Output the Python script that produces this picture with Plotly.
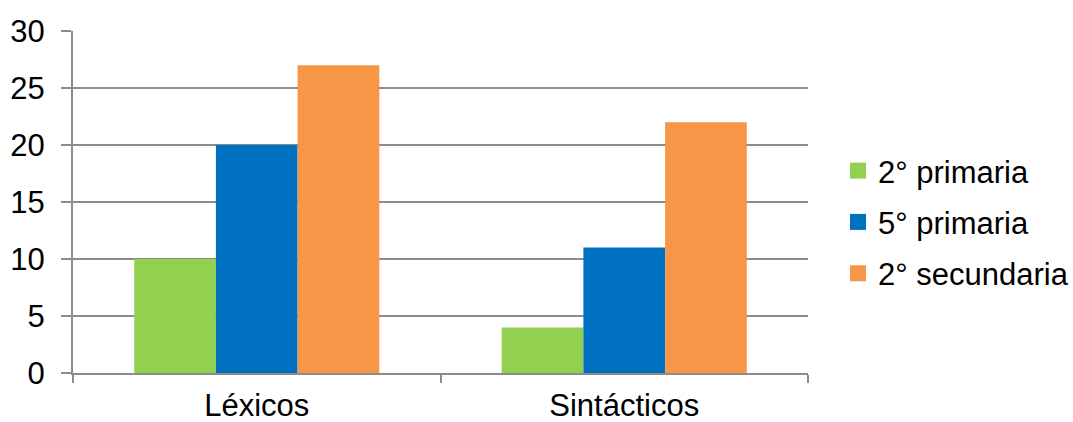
import plotly.graph_objects as go

categories = ["Léxicos", "Sintácticos"]
series_names = ["2° primaria", "5° primaria", "2° secundaria"]
values_2p = [10, 4]
values_5p = [20, 11]
values_2s = [27, 22]
colors = ["#92d050", "#0070c0", "#f79646"]

FONT = "Liberation Sans, Arial, sans-serif"
GRID = "#8c8c8c"
FS = 31

fig = go.Figure()
for name, vals, col in zip(series_names, [values_2p, values_5p, values_2s], colors):
    fig.add_trace(go.Bar(x=categories, y=vals, name=name, marker=dict(color=col, line=dict(width=0)),
                         showlegend=False))
    # square swatch for the legend
    fig.add_trace(go.Scatter(x=[None], y=[None], mode="markers", name=name, legendgroup=name,
                             marker=dict(symbol="square", size=16, color=col)))

fig.update_layout(
    width=1073, height=422,
    margin=dict(l=73, r=265, t=31, b=49, autoexpand=False),
    paper_bgcolor="white", plot_bgcolor="white",
    barmode="group", bargap=0.333, bargroupgap=0,
    font=dict(family=FONT, size=FS, color="#000000"),
    legend=dict(xref="container", yref="container", x=0.781, y=0.474,
                xanchor="left", yanchor="middle",
                font=dict(size=FS), tracegroupgap=8, itemwidth=30,
                bgcolor="rgba(0,0,0,0)"),
    xaxis=dict(type="category", showgrid=False, showline=True, linecolor=GRID, linewidth=2,
               ticks="outside", tickson="boundaries", ticklen=8, tickcolor=GRID, tickwidth=2,
               tickfont=dict(size=FS), automargin=False, ticklabelstandoff=4),
    yaxis=dict(range=[0, 30], tick0=0, dtick=5, showgrid=True, gridcolor=GRID, gridwidth=2,
               showline=True, linecolor=GRID, linewidth=2, zeroline=False,
               ticks="outside", ticklen=10, tickcolor=GRID, tickwidth=2,
               tickfont=dict(size=FS), automargin=False, ticklabelstandoff=10),
)

fig.write_html("out.html")
